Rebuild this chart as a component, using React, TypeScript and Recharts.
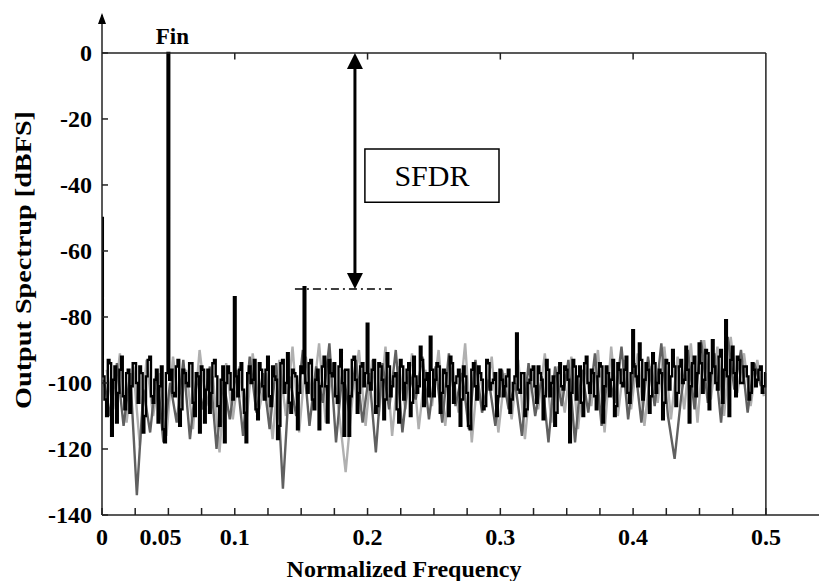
// Output spectrum with SFDR annotation (Recharts ComposedChart)
import {
  ComposedChart,
  Line,
  XAxis,
  YAxis,
  ReferenceLine,
  ReferenceArea,
  ReferenceDot,
  Label,
} from "recharts";

const SERIF = '"Liberation Serif", "Times New Roman", serif';

// black trace, even bins (bin width 0.0025, starting at 0)
const binWidth = 0.0025;
const blackDb = [
  -50, -105, -93, -116, -95, -103, -92, -108, -96, -101,
  -94, -106, -97, -110, -93, -104, -99, -112, -95, -118,
  0, -96, -104, -93, -108, -97, -101, -94, -110, -98,
  -95, -112, -96, -103, -93, -107, -99, -118, -95, -102,
  -74, -104, -94, -109, -97, -100, -93, -111, -96, -105,
  -92, -107, -98, -117, -94, -103, -91, -109, -97, -114,
  -95, -71, -103, -93, -108, -96, -101, -92, -112, -97,
  -94, -106, -90, -116, -96, -104, -92, -109, -95, -101,
  -82, -102, -93, -107, -95, -111, -91, -104, -98, -108,
  -93, -105, -96, -110, -92, -103, -89, -107, -97, -86,
  -104, -94, -109, -96, -101, -92, -106, -98, -113, -95,
  -103, -114, -94, -105, -97, -108, -93, -102, -99, -110,
  -96, -104, -98, -109, -100, -85, -103, -97, -108, -99,
  -95, -106, -97, -111, -93, -104, -98, -109, -94, -102,
  -96, -118, -93, -105, -95, -110, -92, -103, -97, -108,
  -94, -112, -95, -104, -93, -107, -96, -101, -92, -106,
  -84, -98, -88, -105, -94, -109, -91, -103, -96, -111,
  -93, -102, -90, -107, -95, -100, -89, -112, -94, -104,
  -88, -103, -90, -108, -87, -100, -92, -106, -81, -110,
  -89, -104, -93, -100, -95, -105, -94, -101, -96, -103,
  -97,
];

// black trace, odd bins (half a bin later)
const blackOddStart = 0.00125;
const blackOddDb = [
  -98, -110, -94, -99, -112, -96, -104, -97, -109, -94,
  -100, -95, -115, -98, -92, -106, -96, -101, -114, -97,
  -99, -103, -95, -113, -96, -100, -94, -106, -97, -115,
  -96, -102, -109, -94, -98, -113, -95, -100, -97, -105,
  -98, -96, -102, -118, -95, -99, -108, -94, -101, -96,
  -104, -95, -99, -113, -93, -100, -106, -96, -98, -103,
  -97, -100, -94, -105, -99, -114, -95, -101, -93, -98,
  -104, -95, -100, -96, -116, -93, -99, -103, -94, -97,
  -100, -96, -109, -94, -99, -105, -95, -101, -97, -112,
  -95, -100, -94, -106, -98, -101, -93, -99, -104, -96,
  -99, -95, -103, -97, -110, -94, -100, -96, -105, -98,
  -113, -96, -101, -95, -99, -107, -94, -100, -97, -104,
  -99, -101, -96, -105, -98, -102, -97, -110, -100, -96,
  -101, -95, -99, -104, -96, -100, -113, -97, -101, -95,
  -99, -103, -95, -98, -106, -94, -100, -96, -104, -98,
  -95, -101, -97, -99, -110, -94, -100, -96, -103, -97,
  -95, -101, -93, -99, -96, -104, -94, -100, -97, -106,
  -94, -98, -95, -103, -93, -99, -96, -101, -92, -97,
  -94, -99, -91, -97, -95, -102, -90, -96, -98, -93,
  -97, -92, -100, -95, -98, -103, -96, -99, -95, -101,
];

// dark grey trace, every 0.005 starting at 0.00125
const darkStart = 0.00125;
const greyStep = 0.005;
const darkDb = [
  -99, -110, -94, -113, -97, -134, -102, -115, -96, -118,
  -100, -112, -93, -117, -98, -108, -95, -120, -99, -111,
  -96, -116, -92, -109, -97, -114, -94, -132, -98, -110,
  -90, -113, -95, -106, -88, -118, -96, -109, -93, -112,
  -97, -121, -94, -108, -90, -115, -96, -105, -92, -111,
  -95, -112, -91, -107, -97, -114, -93, -109, -99, -113,
  -96, -108, -100, -116, -94, -110, -98, -118, -95, -107,
  -93, -118, -96, -109, -91, -113, -97, -106, -89, -111,
  -94, -112, -92, -107, -88, -110, -123, -104, -90, -108,
  -87, -106, -91, -112, -86, -102, -90, -109, -94, -101,
];

// light grey trace, every 0.005 starting at 0.0035
const lightStart = 0.0035;
const lightDb = [
  -96, -108, -91, -112, -95, -119, -93, -110, -97, -116,
  -92, -109, -96, -114, -90, -107, -98, -121, -94, -111,
  -95, -113, -91, -108, -97, -117, -93, -110, -89, -115,
  -92, -106, -88, -112, -94, -109, -127, -105, -90, -113,
  -93, -110, -89, -116, -95, -108, -91, -114, -96, -107,
  -90, -113, -94, -109, -88, -118, -95, -106, -92, -115,
  -97, -111, -93, -117, -96, -108, -91, -112, -95, -109,
  -92, -114, -94, -107, -90, -115, -89, -110, -93, -108,
  -91, -113, -95, -106, -89, -111, -92, -108, -88, -112,
  -87, -105, -89, -110, -86, -103, -91, -107, -93, -104,
];

const xTicks = [
  0, 0.025, 0.05, 0.075, 0.1, 0.125, 0.15, 0.175, 0.2, 0.225, 0.25,
  0.275, 0.3, 0.325, 0.35, 0.375, 0.4, 0.425, 0.45, 0.475, 0.5,
];
const xLabels = [0, 0.05, 0.1, 0.2, 0.3, 0.4, 0.5];
const topTicks = [0.1, 0.2, 0.3, 0.4];
const yTicks = [-140, -120, -100, -80, -60, -40, -20, 0];

// annotation anchors (data units)
const finAt = { f: 0.05, db: 0 };
const sfdrArrow = { f: 0.1905, top: 0, bottom: -71.5 };
const spurLine = { from: 0.1453, to: 0.2184, db: -71.5 };
const sfdrBox = { x1: 0.198, x2: 0.299, y1: -29.1, y2: -45.2 };

const blackData = [
  ...blackDb.map((db, i) => ({ f: i * binWidth, db })),
  ...blackOddDb.map((db, i) => ({ f: blackOddStart + i * binWidth, db })),
].sort((a, b) => a.f - b.f);
const darkData = darkDb.map((db, i) => ({ f: darkStart + i * greyStep, db }));
const lightData = lightDb.map((db, i) => ({ f: lightStart + i * greyStep, db }));

function XTick(props: any) {
  const { x, y, payload } = props;
  const v = payload.value;
  const show = xLabels.some((l) => Math.abs(l - v) < 1e-9);
  return (
    <g>
      <line x1={x} x2={x} y1={y} y2={y - 7} stroke="#222" strokeWidth={1.5} />
      {show && (
        <text
          x={x + (v === 0.05 ? -8 : 0)}
          y={y + 30}
          textAnchor="middle"
          fontFamily={SERIF}
          fontWeight="bold"
          fontSize={24}
          fill="#000"
        >
          {v}
        </text>
      )}
    </g>
  );
}

function YTick(props: any) {
  const { x, y, payload } = props;
  return (
    <g>
      <line x1={x} x2={x + 6} y1={y} y2={y} stroke="#222" strokeWidth={1.5} />
      <text
        x={x - 10}
        y={y + 8}
        textAnchor="end"
        fontFamily={SERIF}
        fontWeight="bold"
        fontSize={24}
        fill="#000"
      >
        {payload.value}
      </text>
    </g>
  );
}

function DoubleArrow(p: any) {
  const { x1, y1, y2 } = p;
  const top = Math.min(y1, y2);
  const bot = Math.max(y1, y2);
  return (
    <g>
      <line x1={x1} x2={x1} y1={top + 12} y2={bot - 12} stroke="#000" strokeWidth={3} />
      <polygon points={`${x1},${top} ${x1 - 8},${top + 16} ${x1 + 8},${top + 16}`} fill="#000" />
      <polygon points={`${x1},${bot} ${x1 - 8},${bot - 16} ${x1 + 8},${bot - 16}`} fill="#000" />
    </g>
  );
}

export default function App() {
  return (
    <div style={{ position: "absolute", left: 0, top: 0, background: "#fff" }}>
      <ComposedChart
        width={823}
        height={581}
        margin={{ top: 15, right: 4, bottom: 0, left: 0 }}
        style={{ fontFamily: SERIF }}
      >
        <XAxis
          dataKey="f"
          type="number"
          domain={[0, 0.54]}
          ticks={xTicks}
          tick={<XTick />}
          tickSize={0}
          tickMargin={0}
          height={66}
          interval={0}
          allowDataOverflow
          axisLine={{ stroke: "#222", strokeWidth: 1.5 }}
        >
          <Label
            content={() => (
              <text
                x={404}
                y={577}
                textAnchor="middle"
                fontFamily={SERIF}
                fontWeight="bold"
                fontSize={24}
                fill="#000"
              >
                Normalized Frequency
              </text>
            )}
          />
        </XAxis>
        <YAxis
          type="number"
          domain={[-140, 11.5]}
          ticks={yTicks}
          tick={<YTick />}
          tickSize={0}
          tickMargin={0}
          width={102}
          interval={0}
          allowDataOverflow
          axisLine={{ stroke: "#222", strokeWidth: 1.5 }}
        >
          <Label
            content={() => (
              <text
                transform="translate(23,260) rotate(-90)"
                textAnchor="middle"
                dominantBaseline="central"
                fontFamily={SERIF}
                fontWeight="bold"
                fontSize={23}
                textLength={298}
                lengthAdjust="spacingAndGlyphs"
                fill="#000"
              >
                Output Spectrup [dBFS]
              </text>
            )}
          />
        </YAxis>

        <Line
          data={lightData}
          dataKey="db"
          type="linear"
          stroke="#b0b0b0"
          strokeWidth={2.4}
          dot={false}
          activeDot={false}
          isAnimationActive={false}
        />
        <Line
          data={darkData}
          dataKey="db"
          type="linear"
          stroke="#606060"
          strokeWidth={2.4}
          dot={false}
          activeDot={false}
          isAnimationActive={false}
        />
        <Line
          data={blackData}
          dataKey="db"
          type="step"
          stroke="#000"
          strokeWidth={2.4}
          dot={false}
          activeDot={false}
          isAnimationActive={false}
        />

        {/* frame: top edge at 0 dB and right edge at 0.5 */}
        <ReferenceLine
          segment={[{ x: 0, y: 0 }, { x: 0.5, y: 0 }]}
          stroke="#222"
          strokeWidth={1.5}
        />
        <ReferenceLine
          segment={[{ x: 0.5, y: 0 }, { x: 0.5, y: -140 }]}
          stroke="#222"
          strokeWidth={1.5}
        />
        {topTicks.map((t) => (
          <ReferenceLine
            key={t}
            segment={[{ x: t, y: 0 }, { x: t, y: -2 }]}
            stroke="#222"
            strokeWidth={1.5}
          />
        ))}
        <ReferenceDot
          x={0}
          y={11.5}
          ifOverflow="visible"
          shape={(p: any) => (
            <polygon
              points={`${p.cx},${p.cy - 2} ${p.cx - 4},${p.cy + 9} ${p.cx + 4},${p.cy + 9}`}
              fill="#000"
            />
          )}
        />

        {/* SFDR annotation */}
        <ReferenceLine
          segment={[
            { x: spurLine.from, y: spurLine.db },
            { x: spurLine.to, y: spurLine.db },
          ]}
          stroke="#000"
          strokeWidth={1.5}
          strokeDasharray="8 4 2 4"
        />
        <ReferenceLine
          segment={[
            { x: sfdrArrow.f, y: sfdrArrow.top },
            { x: sfdrArrow.f, y: sfdrArrow.bottom },
          ]}
          shape={DoubleArrow}
        />
        <ReferenceArea
          x1={sfdrBox.x1}
          x2={sfdrBox.x2}
          y1={sfdrBox.y1}
          y2={sfdrBox.y2}
          fill="#fff"
          fillOpacity={1}
          stroke="#000"
          strokeWidth={1.5}
        >
          <Label value="SFDR" position="center" fontSize={30} fill="#000" fontFamily={SERIF} />
        </ReferenceArea>
        <ReferenceDot
          x={finAt.f}
          y={finAt.db}
          ifOverflow="visible"
          shape={(p: any) => (
            <text
              x={p.cx + 4}
              y={p.cy - 9}
              textAnchor="middle"
              fontFamily={SERIF}
              fontWeight="bold"
              fontSize={23}
              fill="#000"
            >
              Fin
            </text>
          )}
        />
      </ComposedChart>
    </div>
  );
}
